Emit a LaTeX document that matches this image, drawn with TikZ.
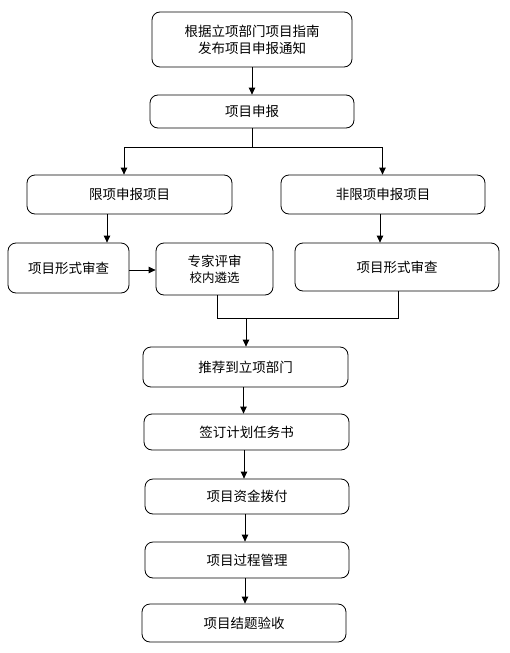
\documentclass[tikz,border=0pt]{standalone}
\usepackage{fontspec}
\setmainfont{Noto Sans CJK SC}
\usetikzlibrary{arrows.meta}
\begin{document}
\begin{tikzpicture}[x=1pt,y=-1pt,
  box/.style={draw=black,line width=0.8pt,rounded corners=8pt,inner sep=0pt,align=center,font=\fontsize{13.5}{17}\selectfont},
  arr/.style={draw=black,line width=0.8pt,-{Triangle[width=6.5pt,length=7pt]}},
  ln/.style={draw=black,line width=0.8pt}]
\fill[white] (0,0) rectangle (510,653);
\useasboundingbox (0,0) rectangle (510,653);

\node[box,minimum width=200pt,minimum height=55pt] (n1) at (252,39.5) {根据立项部门项目指南\\发布项目申报通知};
\node[box,minimum width=204pt,minimum height=33pt] (n2) at (252,111.5) {项目申报};
\node[box,minimum width=205pt,minimum height=39pt] (xl) at (129.5,194.5) {限项申报项目};
\node[box,minimum width=204pt,minimum height=39pt] (fx) at (383,194.5) {非限项申报项目};
\node[box,minimum width=121pt,minimum height=50pt] (sl) at (68.5,268) {项目形式审查};
\node[box,minimum width=117pt,minimum height=52pt] (zj) at (214.5,269) {专家评审\\[-1pt]{\fontsize{12.5}{15}\selectfont 校内遴选}};
\node[box,minimum width=204pt,minimum height=48pt] (sr) at (397,267) {项目形式审查};
\node[box,minimum width=205pt,minimum height=40pt] (tj) at (245.5,367) {推荐到立项部门};
\node[box,minimum width=205pt,minimum height=36pt] (qd) at (246.5,432) {签订计划任务书};
\node[box,minimum width=204pt,minimum height=35pt] (zjb) at (247,496.5) {项目资金拨付};
\node[box,minimum width=204pt,minimum height=36pt] (gc) at (247,560) {项目过程管理};
\node[box,minimum width=204pt,minimum height=38pt] (jt) at (244,623) {项目结题验收};

\coordinate (sp) at (252,147);
\coordinate (spl) at (124,147);
\coordinate (spr) at (382.5,147);
\coordinate (ml) at (217,318);
\coordinate (mr) at (398,318);
\coordinate (mm) at (246,318);

\draw[arr] (n1.south -| 252,0) -- (n2.north -| 252,0);
\draw[ln] (n2.south -| 252,0) -- (sp);
\draw[ln] (spl) -- (spr);
\draw[arr] (spl) -- (xl.north -| spl);
\draw[arr] (spr) -- (fx.north -| spr);
\draw[arr] (xl.south -| 107,0) -- (sl.north -| 107,0);
\draw[arr] (fx.south -| 380,0) -- (sr.north -| 380,0);
\draw[arr] (sl.east |- 0,270) -- (zj.west |- 0,270);
\draw[ln] (zj.south -| ml) -- (ml) -- (mr) -- (sr.south -| mr);
\draw[arr] (mm) -- (tj.north -| mm);
\draw[arr] (tj.south -| 243.5,0) -- (qd.north -| 243.5,0);
\draw[arr] (qd.south -| 244,0) -- (zjb.north -| 244,0);
\draw[arr] (zjb.south -| 245,0) -- (gc.north -| 245,0);
\draw[arr] (gc.south -| 245,0) -- (jt.north -| 245,0);
\end{tikzpicture}
\end{document}
